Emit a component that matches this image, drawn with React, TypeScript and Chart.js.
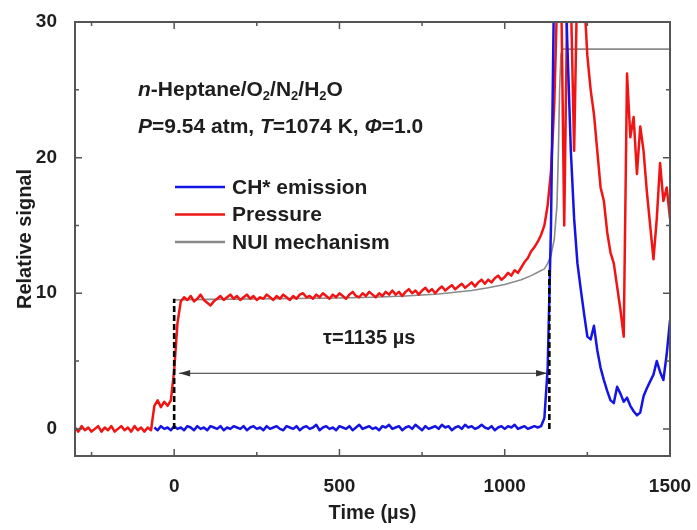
import { useEffect, useRef } from 'react';
import { Chart, registerables } from 'chart.js';

Chart.register(...registerables);

// Axis ranges and tick marks
const X_MIN = -300;
const X_MAX = 1500;
const Y_MIN = -2;
const Y_MAX = 30;
const X_TICKS = [0, 500, 1000, 1500];
const X_MINOR_TICKS = [-250, 250, 750, 1250];
const Y_TICKS = [0, 10, 20, 30];
const Y_MINOR_TICKS = [5, 15, 25];

// Measured traces, sampled every 10 µs
const SAMPLE_STEP_US = 10;

const PRESSURE_START_US = -300;
const PRESSURE = [
  0.1, -0.2, 0.2, -0.1, 0.1, -0.2, 0.0, 0.2, -0.2, 0.1, // -300
  -0.1, 0.2, -0.2, 0.0, 0.2, -0.1, 0.1, -0.2, 0.2, -0.1, // -200
  0.1, -0.2, 0.1, -0.1, 1.7, 2.1, 1.6, 2.0, 1.7, 2.1, // -100
  4.3, 7.8, 9.4, 9.7, 9.5, 9.8, 9.4, 9.6, 9.9, 9.5, // 0
  9.3, 9.1, 9.4, 9.6, 9.8, 9.5, 9.7, 9.9, 9.6, 9.8, // 100
  9.5, 9.7, 9.9, 9.6, 9.8, 9.5, 9.7, 9.6, 9.9, 9.7, // 200
  9.5, 9.8, 9.6, 9.9, 9.7, 9.5, 9.8, 9.6, 9.9, 10.0, // 300
  9.7, 9.8, 9.6, 9.9, 9.7, 10.0, 9.8, 9.6, 9.9, 9.7, // 400
  10.0, 9.8, 9.6, 9.9, 10.1, 9.8, 9.7, 10.0, 9.8, 10.1, // 500
  9.9, 9.7, 10.0, 9.8, 10.1, 9.9, 10.2, 9.9, 10.1, 9.8, // 600
  10.1, 10.3, 10.0, 10.2, 9.9, 10.2, 10.4, 10.1, 10.3, 10.0, // 700
  10.3, 10.5, 10.2, 10.4, 10.6, 10.3, 10.5, 10.7, 10.4, 10.6, // 800
  10.8, 10.5, 10.8, 11.0, 10.7, 11.0, 10.8, 11.1, 11.3, 11.0, // 900
  11.2, 11.5, 11.3, 11.7, 11.5, 11.9, 12.3, 12.6, 13.1, 13.4, // 1000
  13.8, 14.3, 15.0, 16.5, 19.0, 24.0, 33.0, 34.0, 15.0, 33.0, // 1100
  32.0, 20.5, 34.0, 33.0, 32.0, 27.5, 25.0, 23.2, 20.5, 17.8, // 1200
  16.8, 14.5, 13.0, 12.2, 10.5, 8.8, 6.8, 26.2, 21.5, 23.0, // 1300
  18.8, 22.3, 20.5, 17.5, 15.0, 12.5, 15.5, 19.6, 16.8, 17.8, // 1400
  15.5, // 1500
];

const CH_START_US = -60;
const CH_EMISSION = [
  0.1, -0.1, 0.2, 0.0, 0.1, -0.1, // -60
  0.2, 0.0, 0.1, -0.1, 0.2, 0.1, -0.1, 0.2, 0.0, 0.1, // 0
  -0.1, 0.2, 0.1, 0.0, 0.2, -0.1, 0.1, 0.0, 0.2, 0.1, // 100
  0.0, 0.2, -0.1, 0.1, 0.2, 0.0, 0.1, -0.1, 0.2, 0.0, // 200
  0.1, 0.2, 0.0, -0.1, 0.2, 0.1, 0.0, 0.2, -0.1, 0.1, // 300
  0.2, 0.0, 0.1, 0.3, -0.1, 0.1, 0.2, 0.0, 0.1, -0.1, // 400
  0.2, 0.1, 0.0, 0.2, -0.1, 0.1, 0.3, 0.0, 0.1, 0.2, // 500
  0.0, 0.1, -0.1, 0.2, 0.1, 0.3, 0.0, 0.1, 0.2, -0.1, // 600
  0.1, 0.2, 0.0, 0.3, 0.1, -0.1, 0.2, 0.0, 0.1, 0.2, // 700
  0.0, 0.3, 0.1, 0.2, -0.1, 0.1, 0.2, 0.0, 0.3, 0.1, // 800
  0.2, 0.0, 0.1, 0.3, 0.1, 0.0, 0.2, -0.1, 0.1, 0.2, // 900
  0.0, 0.2, 0.1, 0.3, 0.0, 0.1, 0.2, 0.0, 0.1, 0.2, // 1000
  0.1, 0.2, 0.8, 4.5, 15.0, 34.0, 36.0, 36.0, 35.0, 28.0, // 1100
  20.5, 15.5, 12.2, 10.3, 8.5, 6.8, 6.6, 7.6, 5.8, 4.5, // 1200
  3.6, 2.8, 2.1, 1.9, 3.1, 2.6, 2.0, 2.3, 1.7, 1.3, // 1300
  1.0, 1.2, 2.4, 3.0, 3.5, 4.0, 5.0, 4.2, 3.6, 5.5, // 1400
  8.0, // 1500
];

// Simulated pressure from the NUI mechanism
const NUI_TIME_US = [0, 100, 300, 500, 600, 700, 800, 900, 950, 1000, 1050, 1080, 1100, 1120, 1130, 1140, 1150, 1158, 1162, 1166, 1170, 1175, 1500];
const NUI_SIGNAL = [9.5, 9.55, 9.6, 9.65, 9.7, 9.8, 9.95, 10.2, 10.4, 10.65, 11.0, 11.3, 11.55, 11.8, 12.2, 12.8, 14.0, 16.5, 20.0, 25.0, 27.6, 28.0, 28.0];

// Ignition delay markers
const ONSET_US = 0;
const ONSET_MARK_TOP = 9.6;
const IGNITION_DELAY_US = 1135;
const IGNITION_MARK_TOP = 11.8;
const ARROW_LEVEL = 4.1;
const ARROW_FROM_US = 15;
const ARROW_TO_US = 1128;
const DELAY_LABEL = 'τ=1135 µs';
const DELAY_LABEL_AT = { x: 590, y: 6.7 };

const SERIES_LABELS = ['CH* emission', 'Pressure', 'NUI mechanism'];
const SERIES_COLORS = ['#1414e6', '#f01414', '#8a8a8a'];
const SERIES_WIDTHS = [2.5, 2.5, 1.6];

const FONT = '"Liberation Sans", Arial, Helvetica, sans-serif';
const TEXT_COLOR = '#1e1e1e';
const FRAME_COLOR = '#555555';

type Run = { text: string; italic?: boolean; sub?: boolean };

const CONDITION_LINES: Run[][] = [
  [
    { text: 'n', italic: true },
    { text: '-Heptane/O' },
    { text: '2', sub: true },
    { text: '/N' },
    { text: '2', sub: true },
    { text: '/H' },
    { text: '2', sub: true },
    { text: 'O' },
  ],
  [
    { text: 'P', italic: true },
    { text: '=9.54 atm, ' },
    { text: 'T', italic: true },
    { text: '=1074 K, ' },
    { text: 'Φ', italic: true },
    { text: '=1.0' },
  ],
];

function toPoints(start: number, values: number[]) {
  return values.map((v, i) => ({ x: start + i * SAMPLE_STEP_US, y: v }));
}

function drawRuns(ctx: CanvasRenderingContext2D, x: number, yMid: number, runs: Run[], size: number) {
  let cx = x;
  const baseline = yMid + size * 0.36;
  ctx.textBaseline = 'alphabetic';
  ctx.textAlign = 'left';
  for (const r of runs) {
    const s = r.sub ? Math.round(size * 0.62) : size;
    ctx.font = `${r.italic ? 'italic ' : ''}bold ${s}px ${FONT}`;
    ctx.fillText(r.text, cx, r.sub ? baseline + size * 0.2 : baseline);
    cx += ctx.measureText(r.text).width;
  }
}

const overlayPlugin = {
  id: 'overlay',
  afterDatasetsDraw(chart: any) {
    const { ctx, chartArea } = chart;
    const xs = chart.scales.x;
    const ys = chart.scales.y;
    const { left, right, top, bottom } = chartArea;
    ctx.save();

    // Dashed markers for test onset and ignition
    ctx.strokeStyle = '#000';
    ctx.lineWidth = 2.6;
    ctx.setLineDash([6, 3]);
    for (const [t, v] of [[ONSET_US, ONSET_MARK_TOP], [IGNITION_DELAY_US, IGNITION_MARK_TOP]]) {
      const px = xs.getPixelForValue(t);
      ctx.beginPath();
      ctx.moveTo(px, ys.getPixelForValue(0));
      ctx.lineTo(px, ys.getPixelForValue(v));
      ctx.stroke();
    }
    ctx.setLineDash([]);

    // Double-headed arrow spanning the delay
    const ay = ys.getPixelForValue(ARROW_LEVEL);
    const ax1 = xs.getPixelForValue(ARROW_FROM_US);
    const ax2 = xs.getPixelForValue(ARROW_TO_US);
    ctx.strokeStyle = '#333';
    ctx.fillStyle = '#333';
    ctx.lineWidth = 1;
    ctx.beginPath();
    ctx.moveTo(ax1, ay);
    ctx.lineTo(ax2, ay);
    ctx.stroke();
    const head = (tip: number, dir: number) => {
      ctx.beginPath();
      ctx.moveTo(tip, ay);
      ctx.lineTo(tip + dir * 11, ay - 3.2);
      ctx.lineTo(tip + dir * 11, ay + 3.2);
      ctx.closePath();
      ctx.fill();
    };
    head(ax1, 1);
    head(ax2, -1);

    ctx.fillStyle = TEXT_COLOR;
    ctx.font = `bold 20px ${FONT}`;
    ctx.textAlign = 'center';
    ctx.textBaseline = 'middle';
    ctx.fillText(DELAY_LABEL, xs.getPixelForValue(DELAY_LABEL_AT.x), ys.getPixelForValue(DELAY_LABEL_AT.y));

    // Mixture and conditions
    CONDITION_LINES.forEach((runs, i) => drawRuns(ctx, left + 63, top + 66 + i * 37, runs, 21));

    // Legend
    SERIES_LABELS.forEach((label, i) => {
      const y = top + 165 + i * 27.5;
      ctx.strokeStyle = SERIES_COLORS[i];
      ctx.lineWidth = 2.5;
      ctx.beginPath();
      ctx.moveTo(left + 100, y);
      ctx.lineTo(left + 150, y);
      ctx.stroke();
      ctx.fillStyle = TEXT_COLOR;
      ctx.font = `bold 21px ${FONT}`;
      ctx.textAlign = 'left';
      ctx.textBaseline = 'middle';
      ctx.fillText(label, left + 157, y + 1);
    });

    // Frame with inward ticks on all four sides
    ctx.strokeStyle = FRAME_COLOR;
    ctx.lineWidth = 2;
    ctx.strokeRect(left, top, right - left, bottom - top);
    ctx.lineWidth = 1.5;
    const tickX = (vals: number[], len: number) => {
      for (const v of vals) {
        const px = xs.getPixelForValue(v);
        ctx.beginPath();
        ctx.moveTo(px, bottom);
        ctx.lineTo(px, bottom - len);
        ctx.moveTo(px, top);
        ctx.lineTo(px, top + len);
        ctx.stroke();
      }
    };
    const tickY = (vals: number[], len: number) => {
      for (const v of vals) {
        const py = ys.getPixelForValue(v);
        ctx.beginPath();
        ctx.moveTo(left, py);
        ctx.lineTo(left + len, py);
        ctx.moveTo(right, py);
        ctx.lineTo(right - len, py);
        ctx.stroke();
      }
    };
    tickX(X_TICKS, 7);
    tickX(X_MINOR_TICKS, 4);
    tickY(Y_TICKS, 7);
    tickY(Y_MINOR_TICKS, 4);

    ctx.restore();
  },
};

export default function App() {
  const canvasRef = useRef<HTMLCanvasElement | null>(null);

  useEffect(() => {
    const canvas = canvasRef.current;
    if (!canvas) return;
    const tickFont = { family: FONT, size: 19, weight: 'bold' as const };
    const titleFont = { family: FONT, size: 20, weight: 'bold' as const };
    const plain = (v: number | string) => String(v);

    const chart = new Chart(canvas, {
      type: 'line',
      data: {
        datasets: [
          {
            label: SERIES_LABELS[0],
            data: toPoints(CH_START_US, CH_EMISSION),
            borderColor: SERIES_COLORS[0],
            borderWidth: SERIES_WIDTHS[0],
          },
          {
            label: SERIES_LABELS[1],
            data: toPoints(PRESSURE_START_US, PRESSURE),
            borderColor: SERIES_COLORS[1],
            borderWidth: SERIES_WIDTHS[1],
          },
          {
            label: SERIES_LABELS[2],
            data: NUI_TIME_US.map((t, i) => ({ x: t, y: NUI_SIGNAL[i] })),
            borderColor: SERIES_COLORS[2],
            borderWidth: SERIES_WIDTHS[2],
          },
        ],
      },
      options: {
        responsive: false,
        animation: false,
        devicePixelRatio: 1,
        events: [],
        elements: {
          point: { radius: 0 },
          line: { tension: 0, borderJoinStyle: 'round' },
        },
        layout: { padding: { left: 0, right: 27, top: 22, bottom: 0 } },
        plugins: {
          legend: { display: false },
          tooltip: { enabled: false },
        },
        scales: {
          x: {
            type: 'linear',
            min: X_MIN,
            max: X_MAX,
            grid: { display: false },
            border: { display: false },
            afterBuildTicks: (s: any) => {
              s.ticks = X_TICKS.map((v) => ({ value: v }));
            },
            afterFit: (s: any) => {
              s.height = 74;
              s.paddingLeft = 0;
              s.paddingRight = 0;
            },
            ticks: { font: tickFont, color: TEXT_COLOR, padding: 11, maxRotation: 0, callback: plain },
            title: {
              display: true,
              text: 'Time (µs)',
              font: titleFont,
              color: TEXT_COLOR,
              padding: { top: 0, bottom: 5 },
            },
          },
          y: {
            type: 'linear',
            min: Y_MIN,
            max: Y_MAX,
            grid: { display: false },
            border: { display: false },
            afterBuildTicks: (s: any) => {
              s.ticks = Y_TICKS.map((v) => ({ value: v }));
            },
            afterFit: (s: any) => {
              s.width = 75;
              s.paddingTop = 0;
              s.paddingBottom = 0;
            },
            ticks: { font: tickFont, color: TEXT_COLOR, padding: 10, callback: plain },
            title: {
              display: true,
              text: 'Relative signal',
              font: titleFont,
              color: TEXT_COLOR,
              padding: { top: 13, bottom: 0 },
            },
          },
        },
      },
      plugins: [overlayPlugin],
    });

    return () => chart.destroy();
  }, []);

  return (
    <div style={{ position: 'absolute', left: 0, top: 0, width: 697, height: 530, background: '#fff' }}>
      <canvas ref={canvasRef} width={697} height={530} />
    </div>
  );
}
